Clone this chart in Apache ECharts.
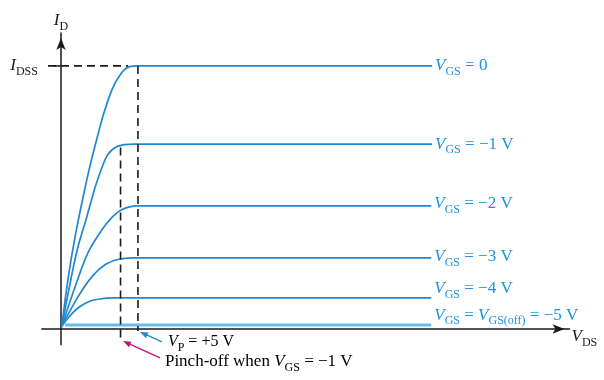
<!DOCTYPE html>
<html>
<head>
<meta charset="utf-8">
<script src="https://cdn.jsdelivr.net/npm/echarts@6/dist/echarts.min.js"></script>
<style>
  html, body { margin: 0; padding: 0; background: #fff; }
  #chart { width: 604px; height: 380px; }
</style>
</head>
<body>
<div id="chart"></div>
<script>
// JFET drain characteristics: I_D (mA) versus V_DS (V) for each gate-source voltage.
const gateVoltages = ['0', '−1 V', '−2 V', '−3 V', '−4 V', '−5 V'];
const vgs0 = [[0.05, 0.1], [0.46, 1.9], [0.92, 3.5], [1.44, 5.0], [1.9, 6.2], [2.36, 7.25], [2.75, 8.1], [3.34, 9.1], [3.8, 9.6], [4.3, 9.92], [4.9, 10.0], [24.3, 10.0]];
const vgs1 = [[0.05, 0.1], [0.72, 2.1], [1.11, 3.12], [1.70, 4.28], [2.23, 5.38], [2.69, 6.15], [3.08, 6.64], [3.73, 6.95], [4.72, 7.03], [24.3, 7.03]];
const vgs2 = [[0.05, 0.1], [0.92, 1.6], [1.77, 2.9], [2.69, 3.78], [3.34, 4.24], [4.0, 4.54], [4.98, 4.68], [24.25, 4.68]];
const vgs3 = [[0.05, 0.1], [1.11, 1.22], [2.03, 1.99], [2.88, 2.44], [3.73, 2.64], [4.65, 2.70], [24.25, 2.70]];
const vgs4 = [[0.05, 0.1], [0.46, 0.42], [1.11, 0.8], [1.77, 1.03], [2.42, 1.13], [3.54, 1.18], [24.25, 1.18]];
const vgs5 = [[0.26, 0.15], [24.25, 0.15]];
const curves = [vgs0, vgs1, vgs2, vgs3, vgs4, vgs5];

const idss = 10;           // saturation current at V_GS = 0
const pinchOff = 5.04;     // V_P
const pinchOffAtMinus1 = 3.9;

const BLUE = '#2188cf';
const TEXT_BLUE = '#1e93d8';
const MAGENTA = '#c4166c';
const SERIF = '"Liberation Serif", "DejaVu Serif", serif';

function richFor(color, size) {
  return {
    v: { fontFamily: SERIF, fontStyle: 'italic', fontSize: size, color: color, lineHeight: 24, verticalAlign: 'middle' },
    s: { fontFamily: SERIF, fontSize: Math.round(size * 0.72), color: color, verticalAlign: 'bottom', lineHeight: 17 },
    t: { fontFamily: SERIF, fontSize: size, color: color, lineHeight: 24, verticalAlign: 'middle' }
  };
}

function curveLabel(i) {
  if (i === 5) return '{v|V}{s|GS}{t| = }{v|V}{s|GS(off)}{t| = −5 V}';
  return '{v|V}{s|GS}{t| = ' + gateVoltages[i] + '}';
}

const labelOffsets = [[0, 0], [0, 0], [0, -2], [0, -1], [0, -9], [0, -10]];

const series = curves.map((data, i) => ({
  type: 'line',
  data: data,
  smooth: i === 5 ? false : 0.3,
  showSymbol: false,
  clip: false,
  lineStyle: { color: i === 5 ? '#62bde8' : BLUE, width: i === 5 ? 3 : 1.7 },
  endLabel: {
    show: true,
    distance: 3,
    offset: labelOffsets[i],
    formatter: () => curveLabel(i),
    rich: richFor(TEXT_BLUE, 17)
  },
  animation: false,
  silent: true
}));

const chart = echarts.init(document.getElementById('chart'), null, { renderer: 'canvas' });

chart.setOption({
  backgroundColor: '#ffffff',
  animation: false,
  grid: { left: 41.9, right: 34.5, top: 33, bottom: 35.2, containLabel: false },
  xAxis: {
    type: 'value', min: -1.25, max: 33.3,
    axisLine: { onZero: true, symbol: ['none', 'arrow'], symbolSize: [7, 12], symbolOffset: [0, -5], lineStyle: { color: '#1a1a1a', width: 1.5 } },
    axisTick: { show: false }, axisLabel: { show: false }, splitLine: { show: false },
    name: '{v|V}{s|DS}', nameLocation: 'end', nameGap: 2,
    nameTextStyle: { align: 'left', verticalAlign: 'top', padding: [-4, 0, 0, 0], rich: richFor('#1a1a1a', 17) }
  },
  yAxis: {
    type: 'value', min: -0.6, max: 11.25,
    axisLine: { onZero: true, symbol: ['none', 'arrow'], symbolSize: [7, 12], symbolOffset: [0, -5], lineStyle: { color: '#1a1a1a', width: 1.5 } },
    axisTick: { show: true, customValues: [idss], length: 7, lineStyle: { color: '#1a1a1a', width: 1.5 } },
    axisLabel: {
      show: true, customValues: [idss], margin: 4,
      formatter: () => '{v|I}{s|DSS}',
      rich: richFor('#1a1a1a', 17)
    },
    splitLine: { show: false },
    name: '{v|I}{s|D}', nameLocation: 'end', nameGap: 0,
    nameTextStyle: { align: 'center', rich: richFor('#1a1a1a', 17) }
  },
  series: series
});

// Guides and annotations placed through the axes' own scales.
const px = (x, y) => chart.convertToPixel({ gridIndex: 0 }, [x, y]);

function dashed(a, b) {
  return { type: 'line', shape: { x1: a[0], y1: a[1], x2: b[0], y2: b[1] },
    style: { stroke: '#1a1a1a', lineWidth: 1.6, lineDash: [8, 5] }, silent: true, z: 5 };
}

function arrow(from, to, color) {
  const dx = to[0] - from[0], dy = to[1] - from[1];
  const len = Math.sqrt(dx * dx + dy * dy);
  const ux = dx / len, uy = dy / len;
  const head = 8, half = 3;
  const bx = to[0] - ux * head, by = to[1] - uy * head;
  return [
    { type: 'line', shape: { x1: from[0], y1: from[1], x2: bx, y2: by }, style: { stroke: color, lineWidth: 1.4 }, silent: true, z: 6 },
    { type: 'polygon', shape: { points: [[to[0], to[1]], [bx - uy * half, by + ux * half], [bx + uy * half, by - ux * half]] }, style: { fill: color }, silent: true, z: 6 }
  ];
}

function richText(x, y, text, color, size) {
  return { type: 'text', x: x, y: y, silent: true, z: 7,
    style: { text: text, rich: richFor(color, size), verticalAlign: 'middle', align: 'left' } };
}

const pIdssLeft = px(-0.85, idss), pIdssKnee = px(4.4, idss);
const pVpTop = px(pinchOff, idss), pVpBottom = px(pinchOff, -0.08);
const pP1Top = px(pinchOffAtMinus1, 6.9), pP1Bottom = px(pinchOffAtMinus1, -0.34);

const vpTail = px(6.61, -0.49), vpTip = px(5.17, -0.11);
const poTail = px(6.48, -1.10), poTip = px(4.06, -0.46);

const elements = [
  dashed(pIdssLeft, pIdssKnee),
  dashed(pVpTop, pVpBottom),
  dashed(pP1Top, pP1Bottom),
  ...arrow(vpTail, vpTip, BLUE),
  ...arrow(poTail, poTip, MAGENTA),
  richText(vpTail[0] + 6, vpTail[1], '{v|V}{s|P}{t| = +5 V}', TEXT_BLUE, 16),
  richText(poTail[0] + 5, poTail[1] + 4, '{t|Pinch-off when }{v|V}{s|GS}{t| = −1 V}', MAGENTA, 17)
];

chart.setOption({ graphic: { elements: elements } });
</script>
</body>
</html>
